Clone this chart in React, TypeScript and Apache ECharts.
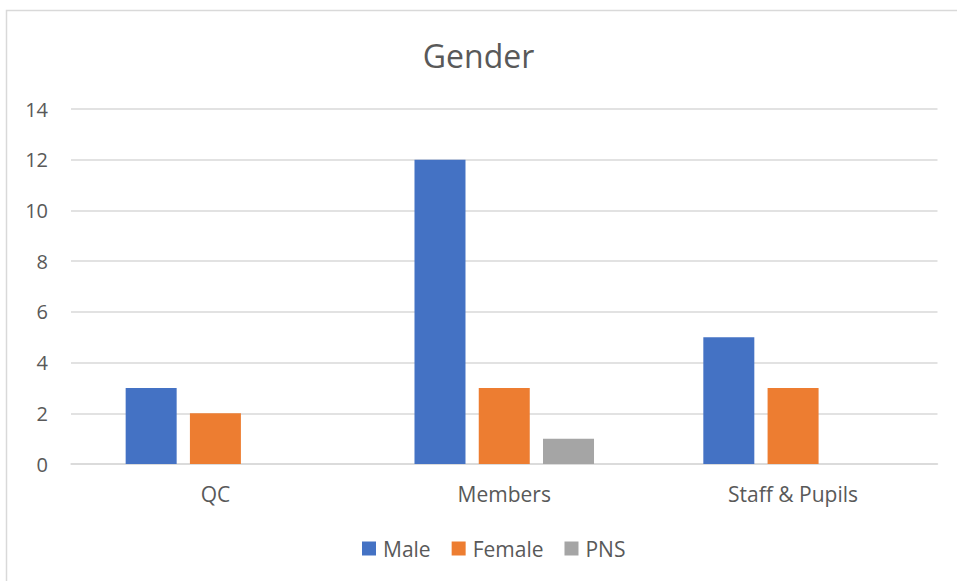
import React, { useEffect, useRef } from "react";
import * as echarts from "echarts";

const categories = ["QC", "Members", "Staff & Pupils"];
const male = [3, 12, 5];
const female = [2, 3, 3];
const pns = [0, 1, 0];
const seriesNames = ["Male", "Female", "PNS"];
const titleText = "Gender";

const FONT = "'Open Sans', sans-serif";
const TEXT = "#595959";

export default function App() {
  const ref = useRef<HTMLDivElement>(null);
  useEffect(() => {
    if (!ref.current) return;
    const chart = echarts.init(ref.current, undefined, { renderer: "svg" });
    chart.setOption({
      animation: false,
      backgroundColor: "#ffffff",
      textStyle: { fontFamily: FONT },
      title: {
        text: titleText,
        left: "center",
        top: 34,
        textStyle: { fontFamily: FONT, fontSize: 32, fontWeight: "normal", color: TEXT },
      },
      graphic: [
        {
          type: "rect",
          shape: { x: 6.5, y: 10.5, width: 1200, height: 1200 },
          style: { fill: "none", stroke: "#d9d9d9", lineWidth: 1.5 },
          silent: true,
        },
      ],
      legend: {
        bottom: 17,
        left: 357,
        itemWidth: 14,
        itemHeight: 14,
        itemGap: 21,
        icon: "rect",
        textStyle: { fontFamily: FONT, fontSize: 21, color: TEXT, padding: [0, 0, 0, 2] },
        data: seriesNames,
      },
      grid: { left: 71, right: 19.5, top: 109, bottom: 117, containLabel: false },
      xAxis: {
        type: "category",
        data: categories,
        axisLine: { lineStyle: { color: "#d9d9d9", width: 1.5 } },
        axisTick: { show: false },
        axisLabel: { fontFamily: FONT, fontSize: 21, color: TEXT, margin: 19 },
      },
      yAxis: {
        type: "value",
        min: 0,
        max: 14,
        interval: 2,
        axisLine: { show: false },
        axisTick: { show: false },
        axisLabel: { fontFamily: FONT, fontSize: 20, color: TEXT, margin: 23 },
        splitLine: { lineStyle: { color: "#d9d9d9", width: 1.5 } },
      },
      series: [
        { name: seriesNames[0], type: "bar", data: male, barWidth: 51, barGap: "26%", itemStyle: { color: "#4472C4" } },
        { name: seriesNames[1], type: "bar", data: female, barWidth: 51, barGap: "26%", itemStyle: { color: "#ED7D31" } },
        { name: seriesNames[2], type: "bar", data: pns, barWidth: 51, barGap: "26%", itemStyle: { color: "#A5A5A5" } },
      ],
    });
    return () => chart.dispose();
  }, []);
  return (
    <div
      ref={ref}
      style={{ position: "fixed", left: 0, top: 0, width: 957, height: 581 }}
    />
  );
}
